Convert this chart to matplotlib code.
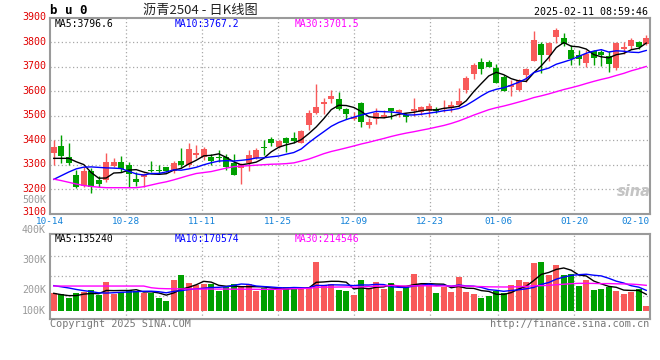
import matplotlib
matplotlib.use("Agg")
import matplotlib.pyplot as plt
import matplotlib.transforms as mtransforms
import numpy as np

# ---- values (bu0, daily K, 10-14 .. 02-11) ----
date_labels = ["10-14", "10-28", "11-11", "11-25", "12-09", "12-23", "01-06", "01-20", "02-10"]
date_index = [0, 10, 20, 30, 40, 50, 59, 69, 78]

opens = [3346, 3376, 3330, 3258, 3214, 3274, 3237, 3237, 3296, 3312,
         3299, 3241, 3248, 3276, 3276, 3289, 3276, 3315, 3299, 3340,
         3333, 3333, 3333, 3330, 3308, 3288, 3308, 3326, 3372, 3405,
         3371, 3408, 3408, 3390, 3462, 3513, 3547, 3569, 3569, 3528,
         3486, 3551, 3464, 3486, 3496, 3530, 3510, 3503, 3520, 3517,
         3520, 3528, 3526, 3530, 3544, 3605, 3671, 3721, 3721, 3694,
         3657, 3617, 3607, 3668, 3725, 3794, 3750, 3821, 3818, 3770,
         3747, 3716, 3764, 3760, 3743, 3696, 3775, 3784, 3802, 3795]
highs = [3401, 3421, 3390, 3278, 3292, 3285, 3255, 3349, 3329, 3335,
         3312, 3271, 3267, 3316, 3299, 3292, 3316, 3370, 3387, 3380,
         3371, 3342, 3360, 3342, 3342, 3306, 3360, 3367, 3401, 3412,
         3401, 3415, 3435, 3442, 3524, 3630, 3571, 3605, 3598, 3530,
         3515, 3558, 3490, 3530, 3524, 3533, 3526, 3510, 3571, 3540,
         3551, 3535, 3565, 3562, 3612, 3663, 3715, 3735, 3728, 3710,
         3668, 3648, 3652, 3695, 3845, 3802, 3800, 3859, 3839, 3788,
         3770, 3770, 3770, 3768, 3764, 3802, 3802, 3818, 3805, 3832]
lows = [3299, 3306, 3299, 3205, 3210, 3186, 3210, 3230, 3292, 3271,
        3210, 3213, 3207, 3269, 3265, 3271, 3265, 3289, 3289, 3326,
        3319, 3299, 3312, 3278, 3258, 3221, 3276, 3322, 3340, 3376,
        3367, 3353, 3390, 3387, 3442, 3507, 3507, 3554, 3524, 3485,
        3482, 3455, 3449, 3466, 3490, 3486, 3496, 3473, 3500, 3503,
        3496, 3510, 3517, 3517, 3537, 3595, 3649, 3671, 3698, 3633,
        3600, 3580, 3603, 3638, 3723, 3675, 3723, 3798, 3784, 3709,
        3709, 3698, 3709, 3705, 3679, 3689, 3753, 3775, 3775, 3791]
closes = [3374, 3337, 3308, 3210, 3274, 3210, 3222, 3312, 3312, 3282,
          3262, 3231, 3262, 3274, 3274, 3274, 3305, 3299, 3364, 3349,
          3364, 3316, 3329, 3292, 3258, 3303, 3340, 3360, 3370, 3390,
          3397, 3390, 3397, 3438, 3513, 3535, 3558, 3582, 3528, 3507,
          3496, 3476, 3474, 3510, 3503, 3521, 3524, 3496, 3528, 3535,
          3540, 3520, 3530, 3544, 3560, 3653, 3708, 3693, 3701, 3635,
          3603, 3627, 3648, 3691, 3809, 3747, 3798, 3850, 3794, 3734,
          3734, 3753, 3736, 3750, 3712, 3798, 3780, 3811, 3780, 3818]

ma5 = [3326, 3326, 3326, 3312, 3300.6, 3267.8, 3244.8, 3245.6, 3266, 3267.6,
       3278, 3279.8, 3269.8, 3262.2, 3260.6, 3263, 3277.8, 3285.2, 3303.2, 3318.2,
       3336.2, 3338.4, 3344.4, 3330, 3311.8, 3299.6, 3304.4, 3310.6, 3326.2, 3352.6,
       3371.4, 3381.4, 3388.8, 3402.4, 3427, 3454.6, 3488.2, 3525.2, 3543.2, 3542,
       3534.2, 3517.8, 3496.2, 3492.6, 3491.8, 3496.8, 3506.4, 3510.8, 3514.4, 3520.8,
       3524.6, 3523.8, 3530.6, 3533.8, 3538.8, 3561.4, 3599, 3631.6, 3663, 3678,
       3668, 3651.8, 3642.8, 3640.8, 3675.6, 3704.4, 3738.6, 3779, 3799.6, 3784.6,
       3782, 3773, 3750.2, 3741.4, 3737, 3749.8, 3755.2, 3770.2, 3776.2, 3797.4]
ma10 = [3240, 3255, 3270, 3283, 3290, 3291, 3289, 3287, 3286, 3284.1,
        3272.9, 3262.3, 3257.7, 3264.1, 3264.1, 3270.5, 3278.8, 3277.5, 3282.7, 3289.4,
        3299.6, 3308.1, 3314.8, 3316.6, 3315, 3317.9, 3321.4, 3327.5, 3328.1, 3332.2,
        3335.5, 3342.9, 3349.7, 3364.3, 3389.8, 3413, 3434.8, 3457, 3472.8, 3484.5,
        3494.4, 3503, 3510.7, 3517.9, 3516.9, 3515.5, 3512.1, 3503.5, 3503.5, 3506.3,
        3510.7, 3515.1, 3520.7, 3524.1, 3529.8, 3543, 3561.4, 3581.1, 3598.4, 3608.4,
        3614.7, 3625.4, 3637.2, 3651.9, 3676.8, 3686.2, 3695.2, 3710.9, 3720.2, 3730.1,
        3743.2, 3755.8, 3764.6, 3770.5, 3760.8, 3765.9, 3764.1, 3760.2, 3758.8, 3767.2]
ma30 = [3241, 3235, 3228, 3221, 3215, 3211, 3208, 3206, 3206, 3206,
        3206, 3206, 3210, 3217, 3224, 3230, 3238, 3247, 3256, 3264,
        3268, 3272, 3279, 3286, 3292, 3294, 3296, 3298, 3300, 3301.9,
        3302.7, 3304.4, 3307.4, 3315, 3323, 3333.8, 3345, 3354, 3361.2, 3368.7,
        3376.5, 3384.7, 3391.7, 3399.6, 3407.2, 3415.5, 3422.8, 3429.3, 3434.8, 3441,
        3446.9, 3453.7, 3460.4, 3468.8, 3478.8, 3490.5, 3502.8, 3513.9, 3524.9, 3533.1,
        3539.9, 3547.8, 3556.2, 3564.6, 3574.5, 3581.6, 3589.6, 3598.5, 3607.4, 3614.9,
        3622.9, 3632.1, 3640.8, 3648.8, 3655.8, 3665, 3673.6, 3684.1, 3692.5, 3701.9]

# volume in thousands
volume = [146, 140, 110, 146, 154, 173, 132, 242, 140, 159,
          173, 165, 146, 151, 110, 83, 256, 297, 233, 215,
          223, 223, 165, 196, 223, 196, 223, 165, 187, 179,
          173, 200, 198, 179, 200, 407, 215, 225, 176, 165,
          130, 256, 190, 239, 179, 231, 163, 206, 305, 223,
          231, 149, 198, 157, 281, 157, 140, 107, 124, 163,
          149, 217, 256, 239, 396, 404, 295, 382, 299, 303,
          206, 256, 173, 182, 200, 167, 140, 159, 182, 41]
vma5 = [146, 135, 127, 127, 139.2, 144.6, 143, 169.4, 168.2, 169.2,
        169.2, 175.8, 156.6, 158.8, 149, 131, 149.2, 179.4, 195.8, 216.8,
        244.8, 238.2, 211.8, 204.4, 206, 200.6, 200.6, 200.6, 198.8, 190,
        185.4, 180.8, 187.4, 185.8, 190, 236.8, 239.8, 245.2, 244.6, 237.6,
        182.2, 190.4, 183.4, 196, 198.8, 219, 200.4, 203.6, 216.8, 225.6,
        225.6, 222.8, 221.2, 191.6, 203.2, 188.4, 186.6, 168.4, 161.8, 138.2,
        136.6, 152, 181.8, 204.8, 251.4, 302.4, 318, 343.2, 355.2, 336.6,
        297, 289.2, 247.4, 224, 203.4, 195.6, 172.4, 169.6, 169.6, 137.8]
vma10 = [209, 200, 190, 178, 168, 160, 150, 148, 151, 154.2,
         156.9, 159.4, 163, 163.5, 159.1, 150.1, 162.5, 168, 177.3, 182.9,
         187.9, 193.7, 195.6, 200.1, 211.4, 222.7, 219.4, 206.2, 201.6, 198,
         193, 190.7, 194, 192.3, 190, 211.1, 210.3, 216.3, 215.2, 213.8,
         209.5, 215.1, 214.3, 220.3, 218.2, 200.6, 195.4, 193.5, 206.4, 212.2,
         222.3, 211.6, 212.4, 204.2, 214.4, 207, 204.7, 194.8, 176.7, 170.7,
         162.5, 169.3, 175.1, 183.3, 194.8, 219.5, 235, 262.5, 280, 294,
         299.7, 303.6, 295.3, 289.6, 270, 246.3, 230.8, 208.5, 196.8, 170.6]
vma30 = [206, 206, 206, 206, 206, 206, 206, 206, 206, 206,
         206, 206, 206, 192, 186, 184, 183, 182, 182, 181,
         181, 181, 181, 181, 180, 180, 180, 179, 179, 178.4,
         179.3, 181.3, 184.2, 185.3, 186.8, 194.6, 197.4, 196.8, 198, 198.2,
         196.8, 199.8, 201.3, 204.2, 206.5, 211.5, 208.4, 205.3, 207.7, 208,
         208.3, 205.8, 206.9, 205.6, 207.5, 206.2, 203.5, 201.5, 199.4, 198.9,
         198.1, 198.7, 200.6, 202.6, 209.1, 209, 211.7, 216.9, 221, 225.6,
         228.2, 228.2, 227.6, 225.7, 226.4, 224.3, 223.5, 221.9, 217.8, 211.8]

price_ticks = [3100, 3200, 3300, 3400, 3500, 3600, 3700, 3800, 3900]
vol_labels = ["400K", "300K", "200K", "100K"]

# ---- style ----
RED = "#f85a5a"
GREEN = "#00a000"
GRID = "#a8a8a8"
FRAME = "#9a9a9a"
MONO = "DejaVu Sans Mono"
plt.rcParams["font.family"] = MONO

W, H = 660, 360
fig = plt.figure(figsize=(W / 100, H / 100), dpi=100)


def fx(px):
    return px / W


def fy(py):
    return 1 - py / H


ax = fig.add_axes([fx(50), fy(213.6), 600 / W, 195.6 / H])
axv = fig.add_axes([fx(50), fy(319), 600 / W, 84.7 / H])

o = np.array(opens, float)
c = np.array(closes, float)
x = np.arange(len(o))
cols = [RED if cc >= oo else GREEN for oo, cc in zip(o, c)]

# sina puts the date grid on a slightly different step than the candles
grid_x = [k * len(x) / (len(x) - 1) - 0.5 for k in date_index]

for a in (ax, axv):
    a.set_xlim(-0.5, len(x) - 0.5)
    for gx in grid_x[1:-1]:
        a.axvline(gx, color=GRID, lw=0.9, ls=(0, (1, 2)), zorder=0)
    for s in a.spines.values():
        s.set_color(FRAME)
        s.set_linewidth(1.5)
    a.set_xticks([])

# price panel
ax.set_ylim(3100, 3900)
for p in price_ticks[1:-1]:
    ax.axhline(p, color=GRID, lw=0.9, ls=(0, (1, 2)), zorder=0)
ax.vlines(x, lows, highs, colors=cols, lw=1, zorder=2)
ax.bar(x, np.maximum(np.abs(c - o), 3.5), bottom=np.minimum(o, c), width=0.8,
       color=cols, linewidth=0, zorder=3)
ax.plot(x, ma5, color="black", lw=1, zorder=4)
ax.plot(x, ma10, color="#0000ff", lw=1, zorder=4)
ax.plot(x, ma30, color="#ff00ff", lw=1, zorder=4)
ax.set_yticks(price_ticks)
ax.tick_params(axis="y", length=0, pad=3, labelcolor="#e00000", labelsize=7.2)
# labels sit a little above their grid lines in the original
lift = mtransforms.ScaledTranslation(0, 1.5 / 100, fig.dpi_scale_trans)
for lbl in ax.get_yticklabels():
    lbl.set_transform(lbl.get_transform() + lift)
bottom_lift = mtransforms.ScaledTranslation(0, 1.5 / 100, fig.dpi_scale_trans)
ax.get_yticklabels()[0].set_transform(ax.get_yticklabels()[0].get_transform() + bottom_lift)

# date labels
tr = mtransforms.blended_transform_factory(ax.transData, fig.transFigure)
for lab, gx in zip(date_labels[:-1], grid_x[:-1]):
    ax.text(gx, fy(221), lab, transform=tr, ha="center", va="center",
            color="#1080d8", fontsize=6.7)
ax.text(len(x) - 0.5, fy(221), date_labels[-1], transform=tr, ha="right",
        va="center", color="#1080d8", fontsize=6.7)

# volume panel
axv.set_ylim(-66, 633)
for g in [456, 291, 126]:
    axv.axhline(g, color=GRID, lw=0.9, ls=(0, (1, 2)), zorder=0)
axv.bar(x, volume, width=0.8, color=cols, linewidth=0, zorder=2)
axv.plot(x, vma5, color="black", lw=1, zorder=4)
axv.plot(x, vma10, color="#0000ff", lw=1, zorder=4)
axv.plot(x, vma30, color="#ff00ff", lw=1, zorder=4)
axv.set_yticks([])
for lab, py in zip(vol_labels, [230, 260, 290, 311]):
    fig.text(fx(46), fy(py), lab, ha="right", va="center", color="#9a9a9a", fontsize=7.2)
fig.text(fx(46), fy(200), "500K", ha="right", va="center", color="#9a9a9a", fontsize=7.2)

# header texts
fig.text(fx(50), fy(11), "b u 0", ha="left", va="center", fontsize=9,
         fontweight="bold", color="black")
fig.text(fx(200), fy(10), "沥青2504 - 日K线图", ha="center", va="center",
         fontsize=9.5, family=["Noto Sans CJK SC", "DejaVu Sans"], color="#222222")
fig.text(fx(648), fy(12), "2025-02-11 08:59:46", ha="right", va="center",
         fontsize=7.2, color="black")

fig.text(fx(55), fy(24), "MA5:3796.6", ha="left", va="center", fontsize=7, color="black")
fig.text(fx(175), fy(24), "MA10:3767.2", ha="left", va="center", fontsize=7, color="#0000ff")
fig.text(fx(295), fy(24), "MA30:3701.5", ha="left", va="center", fontsize=7, color="#ff00ff")
fig.text(fx(55), fy(239), "MA5:135240", ha="left", va="center", fontsize=7, color="black")
fig.text(fx(175), fy(239), "MA10:170574", ha="left", va="center", fontsize=7, color="#0000ff")
fig.text(fx(295), fy(239), "MA30:214546", ha="left", va="center", fontsize=7, color="#ff00ff")

fig.text(fx(50), fy(324), "Copyright 2025 SINA.COM", ha="left", va="center",
         fontsize=7.3, color="#777777")
fig.text(fx(649), fy(324), "http://finance.sina.com.cn", ha="right", va="center",
         fontsize=7.3, color="#777777")

# sina watermark
fig.text(fx(634), fy(191), "sina", ha="center", va="center", fontsize=10.5,
         style="italic", fontweight="bold", color="#c4c4c4", family="DejaVu Sans")

fig.savefig("out.png", dpi=100)
